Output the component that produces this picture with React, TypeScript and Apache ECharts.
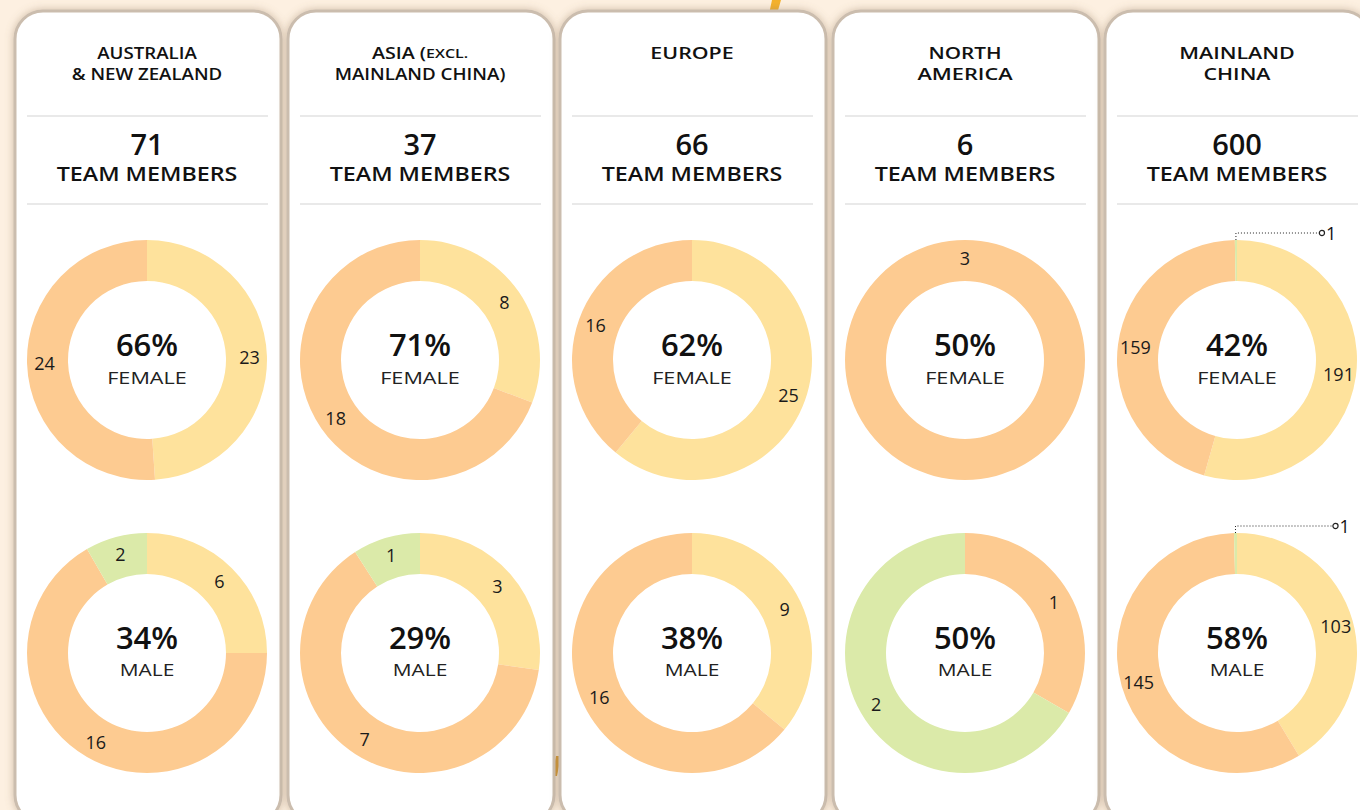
import React, { useEffect, useRef } from 'react';
import * as echarts from 'echarts';

const regionTitles: string[][] = [
  ['AUSTRALIA', '& NEW ZEALAND'],
  ['ASIA (EXCL.', 'MAINLAND CHINA)'],
  ['EUROPE'],
  ['NORTH', 'AMERICA'],
  ['MAINLAND', 'CHINA'],
];
const smallCapsWord = 'EXCL.';
const teamCounts = [71, 37, 66, 6, 600];
const femalePct = [66, 71, 62, 50, 42];
const malePct = [34, 29, 38, 50, 58];

const groupNames = ['Group 1', 'Group 2', 'Group 3'];
const groupColors = ['#fee29c', '#fdcb91', '#dbeaa9'];

const femaleGroup1 = [23, 8, 25, 0, 191];
const femaleGroup2 = [24, 18, 16, 3, 159];
const femaleGroup3 = [0, 0, 0, 0, 1];
const maleGroup1 = [6, 3, 9, 0, 103];
const maleGroup2 = [16, 7, 16, 1, 145];
const maleGroup3 = [2, 1, 0, 2, 1];

const FONT = '"Open Sans", "Noto Sans", sans-serif';
const cardCenters = [147, 420, 692, 965, 1237];
const ROW_Y = [360, 653];
const leaderLen = [[0, 0, 0, 0, 84], [0, 0, 0, 0, 98]];

let measureCtx: CanvasRenderingContext2D | null = null;
function measure(text: string, size: number, weight: number) {
  if (!measureCtx) measureCtx = document.createElement('canvas').getContext('2d');
  if (!measureCtx) return text.length * size * 0.6;
  measureCtx.font = `${weight} ${size}px ${FONT}`;
  return measureCtx.measureText(text).width;
}

// text with emulated letter spacing (horizontal stretch to the spaced width)
function spacedText(text: string, x: number, y: number, size: number, weight: number, ls: number, fill: string) {
  const idx = text.indexOf(smallCapsWord);
  if (idx >= 0) {
    const head = text.slice(0, idx);
    const tail = text.slice(idx);
    const small = Math.round(size * 0.8);
    const w = measure(head, size, weight) + measure(tail, small, weight);
    const scale = w > 0 ? (w + ls * (text.length - 1)) / w : 1;
    return {
      type: 'text', z: 5, x, y, scaleX: scale,
      style: {
        text: `{a|${head}}{b|${tail}}`, x: 0, y: 0, align: 'center', verticalAlign: 'middle',
        fontSize: size, fontWeight: weight, fontFamily: FONT, fill,
        rich: {
          a: { fontSize: size, fontWeight: weight, fontFamily: FONT, fill },
          b: { fontSize: small, fontWeight: weight, fontFamily: FONT, fill },
        },
      },
    };
  }
  const w = measure(text, size, weight);
  const scale = w > 0 ? (w + ls * (text.length - 1)) / w : 1;
  return {
    type: 'text', z: 5, x, y, scaleX: scale,
    style: {
      text, x: 0, y: 0, align: 'center', verticalAlign: 'middle',
      fontSize: size, fontWeight: weight, fontFamily: FONT, fill,
    },
  };
}

function buildPie(ci: number, row: number, values: number[]) {
  const total = values.reduce((a, b) => a + b, 0);
  const data = values
    .map((v, k) => ({ v, k }))
    .filter((d) => d.v > 0)
    .map((d) => {
      const item: any = {
        name: groupNames[d.k],
        value: d.v,
        itemStyle: { color: groupColors[d.k] },
      };
      if (d.v / total < 0.01) {
        item.label = {
          position: 'outside',
          formatter: (p: any) => `{dot| }{v|${p.value}}`,
          rich: {
            dot: { width: 4, height: 4, borderRadius: 3, borderColor: '#222', borderWidth: 1.2, backgroundColor: '#fff' },
            v: { fontSize: 18, color: '#111', fontFamily: FONT, padding: [0, 0, 0, 2] },
          },
        };
        item.labelLine = { show: true, lineStyle: { type: [1, 2], color: '#222', width: 1 } };
      }
      return item;
    });
  const single = data.length === 1;
  const len = leaderLen[row][ci];
  return {
    type: 'pie',
    center: [cardCenters[ci], ROW_Y[row]],
    radius: [79, 120],
    startAngle: single ? -90 : 90,
    clockwise: true,
    avoidLabelOverlap: false,
    silent: true,
    label: {
      show: true,
      position: 'inside',
      fontSize: 18,
      color: '#1a1a1a',
      fontFamily: FONT,
      formatter: '{c}',
    },
    labelLine: { show: false },
    labelLayout: (params: any) => {
      const d = data[params.dataIndex];
      if (!d || !d.labelLine || !params.labelLinePoints) return {};
      const p0 = params.labelLinePoints[0];
      const p1 = [p0[0], p0[1] - 7];
      const p2 = [p0[0] + len, p0[1] - 7];
      return {
        x: p2[0],
        y: p2[1],
        align: 'left',
        verticalAlign: 'middle',
        labelLinePoints: [p0, p1, p2],
      };
    },
    data,
  };
}

export default function App() {
  const ref = useRef<HTMLDivElement>(null);
  useEffect(() => {
    if (!ref.current) return;
    const chart = echarts.init(ref.current, undefined, { renderer: 'svg' });
    const graphic: any[] = [];
    // decorative orange strokes behind the cards
    graphic.push({
      type: 'polygon', z: 0,
      shape: { points: [[772, 0], [781, 0], [777, 14], [769, 14]] },
      style: { fill: '#f4b12c' },
    });
    graphic.push({
      type: 'polygon', z: 0,
      shape: { points: [[556, 756], [561, 756], [557, 776], [552, 776]] },
      style: { fill: '#d99a2c' },
    });
    cardCenters.forEach((cx, i) => {
      graphic.push({
        type: 'rect', z: 1,
        shape: { x: cx - 132, y: 11, width: 266, height: 812, r: 28 },
        style: {
          fill: '#ffffff', stroke: '#cbbdae', lineWidth: 3,
          shadowBlur: 8, shadowColor: 'rgba(150,120,90,0.45)',
        },
      });
      const lines = regionTitles[i];
      lines.forEach((t, li) => {
        const ls = t.length > 8 ? 1.8 : 4.2;
        graphic.push(spacedText(t, cx, 53 + li * 21, 16, 600, ls, '#111'));
      });
      [116, 204].forEach((y) => {
        graphic.push({
          type: 'line', z: 5,
          shape: { x1: cx - 120, y1: y, x2: cx + 121, y2: y },
          style: { stroke: '#d4d4d4', lineWidth: 1.2 },
        });
      });
      graphic.push({
        type: 'text', z: 5,
        style: {
          text: String(teamCounts[i]), x: cx, y: 143, align: 'center', verticalAlign: 'middle',
          fontSize: 29, fontWeight: 600, fontFamily: FONT, fill: '#111',
        },
      });
      graphic.push(spacedText('TEAM MEMBERS', cx, 173, 19, 600, 3, '#111'));
      [[femalePct[i], 'FEMALE'], [malePct[i], 'MALE']].forEach(([pct, lab], r) => {
        graphic.push({
          type: 'text', z: 5,
          style: {
            text: pct + '%', x: cx, y: ROW_Y[r] - 16, align: 'center', verticalAlign: 'middle',
            fontSize: 31, fontWeight: 600, fontFamily: FONT, fill: '#111',
          },
        });
        graphic.push(spacedText(String(lab), cx, ROW_Y[r] + 17, 17, 400, 3.4, '#222'));
      });
    });
    const series: any[] = [];
    cardCenters.forEach((_, i) => {
      series.push(buildPie(i, 0, [femaleGroup1[i], femaleGroup2[i], femaleGroup3[i]]));
      series.push(buildPie(i, 1, [maleGroup1[i], maleGroup2[i], maleGroup3[i]]));
    });
    chart.setOption({
      animation: false,
      backgroundColor: '#fdf0e1',
      graphic,
      series,
    });
    return () => chart.dispose();
  }, []);
  return <div ref={ref} style={{ position: 'absolute', left: 0, top: 0, width: 1360, height: 810 }} />;
}
